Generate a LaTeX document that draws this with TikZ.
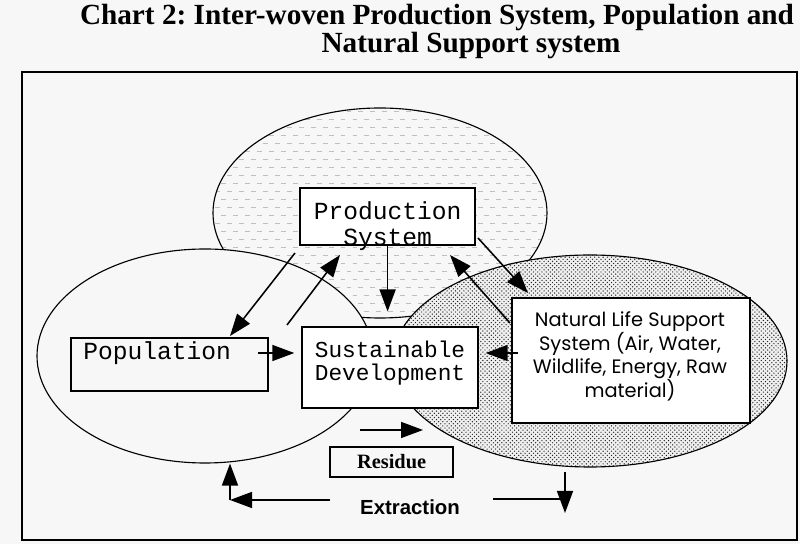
\documentclass[tikz,border=0pt]{standalone}
\usepackage{fontspec}
\setmainfont{Liberation Serif}
\newfontfamily\boxfont{Liberation Mono}
\newfontfamily\natfont{Poppins}
\newfontfamily\labelfont{Liberation Sans}
\usetikzlibrary{arrows.meta}
\usetikzlibrary{shapes.geometric}
\usetikzlibrary{patterns}

\definecolor{paper}{gray}{0.97}

\pgfdeclarepatternformonly{dashlets}{\pgfqpoint{-1pt}{-1pt}}{\pgfqpoint{9pt}{12pt}}{\pgfqpoint{8.5pt}{11.4pt}}{%
  \pgfsetlinewidth{0.7pt}
  \pgfpathmoveto{\pgfqpoint{0pt}{0pt}}\pgfpathlineto{\pgfqpoint{3.5pt}{0pt}}
  \pgfpathmoveto{\pgfqpoint{4.25pt}{5.7pt}}\pgfpathlineto{\pgfqpoint{7.75pt}{5.7pt}}
  \pgfusepath{stroke}}

\begin{document}
\frenchspacing
\begin{tikzpicture}[
    % styles
    zone/.style={ellipse,draw,line width=0.8pt,inner sep=0pt},
    box/.style={draw,line width=1pt,fill=white,inner sep=0pt},
    flow/.style={line width=1.1pt,-{Triangle[length=0.55cm,width=0.4cm]}},
    plain/.style={line width=1.1pt},
    mono/.style={font=\boxfont\fontsize{17.5}{18.4}\selectfont}]

  % paper
  \fill[paper] (0,0) rectangle (20,13.6);
  \useasboundingbox (0,0) rectangle (20,13.6);

  % title
  \node (title1) at (10.925,13.15)
    {\fontsize{20.8}{24}\selectfont\bfseries Chart 2: Inter-woven Production System, Population and};
  \node (title2) at (11.775,12.45)
    {\fontsize{20.8}{24}\selectfont\bfseries Natural Support system};

  % frame
  \draw[line width=0.9pt] (0.55,0.1) rectangle (19.925,11.8);

  % zones
  \node[zone, preaction={fill=paper}, pattern=dashlets, pattern color=gray!50,
    minimum width=8.35cm, minimum height=5.25cm] (prodzone) at (9.5,8.275) {};
  \node[zone, fill=paper, minimum width=8.4cm, minimum height=5.35cm] (popzone) at (5.125,4.7) {};
  \node[zone, preaction={fill=gray!12}, pattern=crosshatch dots, pattern color=black!85,
    minimum width=9.85cm, minimum height=5.3cm] (natzone) at (14.75,4.575) {};

  % boxes
  \node[box, minimum width=4.375cm, minimum height=1.425cm] (prod) at (9.69,8.19) {};
  \node[box, fill=paper, minimum width=4.925cm, minimum height=1.325cm] (pop) at (4.2375,4.4875) {};
  \node[box, minimum width=4.4cm, minimum height=2.025cm] (sust) at (9.75,4.4125) {};
  \node[box, minimum width=5.95cm, minimum height=3.125cm] (nat) at (15.775,4.5875) {};
  \node[box, fill=paper, minimum width=3.075cm, minimum height=0.75cm] (res) at (9.79,2.05) {};

  % texts
  \node[mono, align=center] (prodtext) at (9.69,7.95) {Production\\System};
  \node[mono, anchor=west, inner sep=0pt] (poptext) at (2.075,4.775) {Population};
  \node[mono, font=\boxfont\fontsize{16.2}{16.4}\selectfont, align=center] (susttext) at (9.75,4.5125)
    {Sustainable\\Development};
  \node[align=center, font=\natfont\fontsize{13.8}{15.8}\selectfont] (nattext) at (15.75,4.69)
    {Natural Life Support\\System (Air, Water,\\Wildlife, Energy, Raw\\material)};
  \node[font=\fontsize{14.5}{16}\selectfont\bfseries] (restext) at (res) {Residue};
  \node[font=\labelfont\fontsize{14.5}{16}\selectfont\bfseries] (extr) at (10.25,0.925) {Extraction};

  % production <-> population
  \coordinate (prodleft) at (7.375,7.275);
  \coordinate (popup) at (5.75,5.2);
  \draw[flow] (prodleft) -- (popup);
  \coordinate (popright) at (7.175,5.475);
  \coordinate (produnder) at (8.5,7.225);
  \draw[flow] (popright) -- (produnder);

  % production -> sustainable development
  \draw[flow, shorten >=0.37cm] (prod.south) -- (prod.south |- sust.north);

  % production <-> natural life support
  \coordinate (prodright) at (11.95,7.65);
  \coordinate (natcorner) at (13.2,6.275);
  \draw[flow] (prodright) -- (natcorner);
  \coordinate (natleft) at (12.75,5.525);
  \coordinate (prodbelow) at (11.25,7.225);
  \draw[flow] (natleft) -- (prodbelow);

  % into sustainable development
  \coordinate (popmid) at (6.45,4.775);
  \draw[flow, shorten >=0.175cm] (popmid) -- (sust.west |- popmid);
  \coordinate (natmid) at (12.95,4.775);
  \draw[flow, shorten >=0.175cm] (natmid) -- (sust.east |- natmid);

  % residue
  \coordinate (resfrom) at (9.0,2.85);
  \coordinate (resto) at (10.575,2.85);
  \draw[flow] (resfrom) -- (resto);

  % extraction
  \coordinate (extrleft) at (8.25,1.1);
  \coordinate (turn) at (5.75,1.1);
  \draw[flow] (extrleft) -- (turn);
  \draw[flow] (turn) -- (turn |- popzone.south);
  \coordinate (extrright) at (12.325,1.125);
  \coordinate (drop) at (14.125,1.125);
  \draw[plain] (extrright) -- (drop);
  \coordinate (natbottom) at (14.125,1.8);
  \coordinate (dropend) at (14.125,0.775);
  \draw[flow] (natbottom) -- (dropend);
\end{tikzpicture}
\end{document}
